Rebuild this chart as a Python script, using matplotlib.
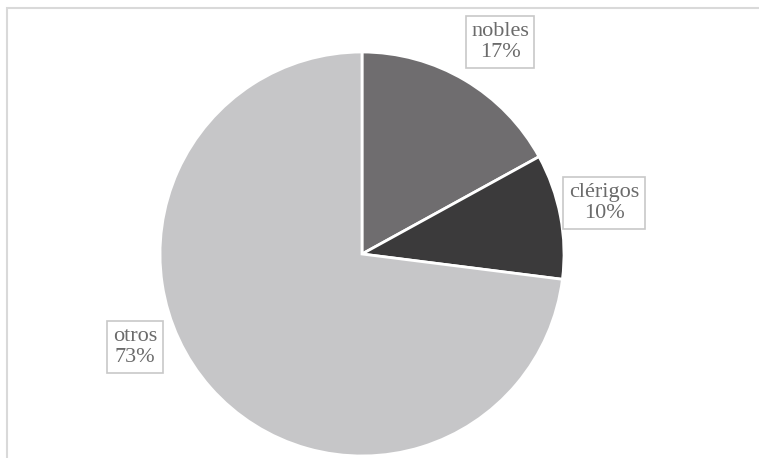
import matplotlib.pyplot as plt
from matplotlib.patches import Rectangle

plt.rcParams['font.family'] = ['Liberation Serif', 'DejaVu Serif']

labels = ['nobles', 'clérigos', 'otros']
shares = [17, 10, 73]
colors = ['#6f6d6f', '#3b3a3b', '#c6c6c8']
# label box centres in pixel coords (x, y from top)
label_pos = [(500, 42), (604, 203), (135, 347)]

W, H = 759, 458
fig = plt.figure(figsize=(W / 100, H / 100), dpi=100)
ax = fig.add_axes([0, 0, 1, 1])

# chart area border (only top/left visible)
fig.add_artist(Rectangle((7 / W, -0.1), 1.2, (H - 8) / H + 0.1,
                         transform=fig.transFigure, fill=False,
                         edgecolor='#d9d9d9', lw=1.5))

ax.pie(shares, colors=colors, startangle=90, counterclock=False,
       center=(362, H - 254), radius=202,
       wedgeprops=dict(edgecolor='white', linewidth=2))
ax.set_xlim(0, W)
ax.set_ylim(0, H)
ax.set_aspect('equal')
ax.axis('off')

for lab, val, (x, y) in zip(labels, shares, label_pos):
    ax.text(x, H - y, f'{lab}\n{val}%', ha='center', va='center',
            fontsize=16, color='#6b6b6b', linespacing=1.2,
            bbox=dict(boxstyle='square,pad=0.25', fc='white', ec='#c8c8c8', lw=1.2))

fig.savefig('out.png', dpi=100)
